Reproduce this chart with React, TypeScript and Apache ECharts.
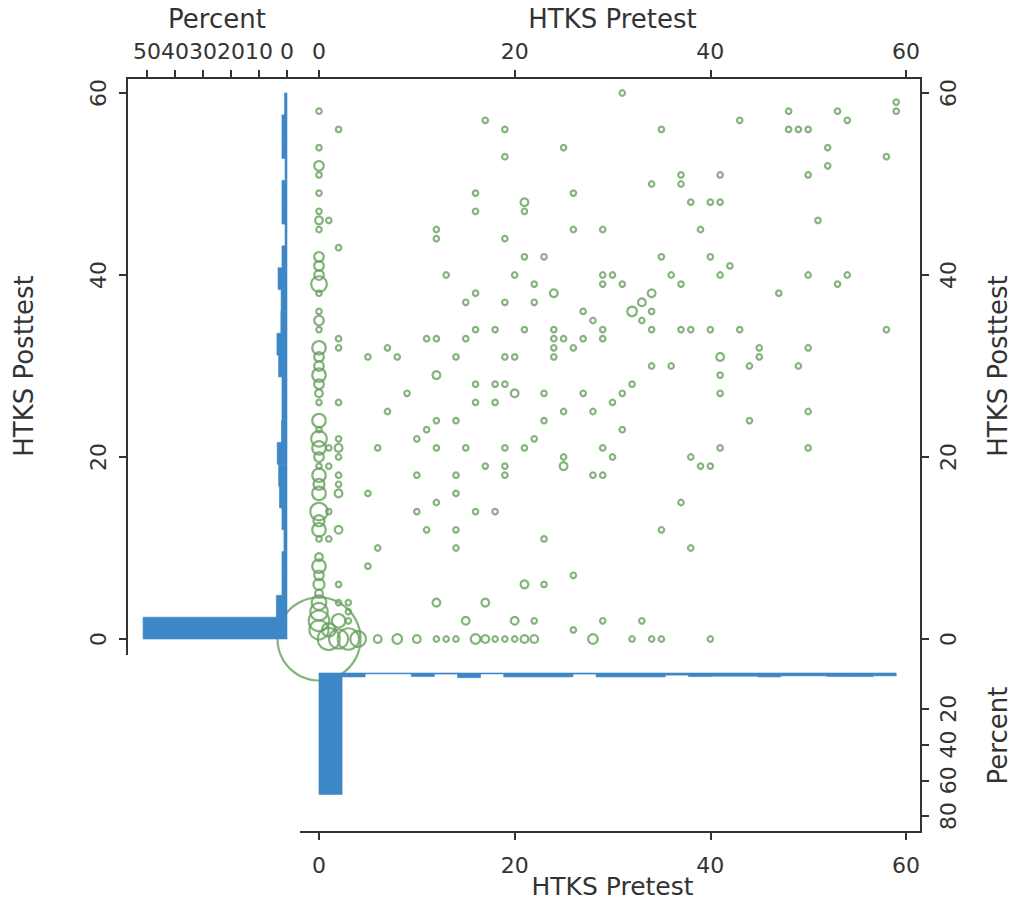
import React, { useEffect, useRef } from "react";
import * as echarts from "echarts";

// [HTKS pretest, HTKS posttest, number of children at that point]
const points: [number, number, number][] = [
  [0, 0, 228], [0, 1, 12], [0, 2, 14], [0, 3, 10], [0, 4, 7], [0, 5, 2], [0, 6, 4], [0, 7, 3], [0, 8, 6], [0, 9, 2],
  [0, 11, 1], [0, 12, 6], [0, 13, 4], [0, 14, 10], [0, 16, 6], [0, 17, 4], [0, 18, 6], [0, 19, 1], [0, 20, 3],
  [0, 21, 6], [0, 22, 8], [0, 23, 1], [0, 24, 6], [0, 26, 1], [0, 27, 2], [0, 28, 3], [0, 29, 6], [0, 30, 3],
  [0, 31, 3], [0, 32, 6], [0, 34, 1], [0, 35, 3], [0, 36, 1], [0, 38, 1], [0, 39, 8], [0, 40, 3], [0, 41, 3],
  [0, 42, 3], [0, 45, 1], [0, 46, 2], [0, 47, 1], [0, 49, 1], [0, 51, 1], [0, 52, 3], [0, 54, 1], [0, 58, 1],
  [1, 0, 16], [1, 1, 6], [1, 11, 1], [1, 14, 1], [1, 19, 1], [1, 21, 1], [1, 46, 1],
  [2, 0, 12], [2, 2, 6], [2, 4, 1], [2, 6, 1], [2, 12, 2], [2, 16, 2], [2, 17, 1], [2, 18, 1], [2, 20, 1],
  [2, 21, 2], [2, 22, 1], [2, 26, 1], [2, 32, 1], [2, 33, 1], [2, 43, 1], [2, 56, 1],
  [3, 0, 15], [3, 2, 1], [3, 3, 1], [3, 4, 1], [4, 0, 8],
  [5, 8, 1], [5, 16, 1], [5, 31, 1], [6, 0, 2], [6, 10, 1], [6, 21, 1], [7, 25, 1], [7, 32, 1],
  [8, 0, 3], [8, 31, 1], [9, 27, 1], [10, 0, 2], [10, 14, 1], [10, 18, 1], [10, 22, 1],
  [11, 12, 1], [11, 23, 1], [11, 33, 1],
  [12, 0, 1], [12, 4, 2], [12, 15, 1], [12, 21, 1], [12, 24, 1], [12, 29, 2], [12, 33, 1], [12, 44, 1], [12, 45, 1],
  [13, 0, 1], [13, 40, 1],
  [14, 0, 1], [14, 10, 1], [14, 12, 1], [14, 16, 1], [14, 18, 1], [14, 24, 1], [14, 31, 1],
  [15, 2, 2], [15, 21, 1], [15, 33, 1], [15, 37, 1],
  [16, 0, 3], [16, 14, 1], [16, 26, 1], [16, 28, 1], [16, 34, 1], [16, 38, 1], [16, 47, 1], [16, 49, 1],
  [17, 0, 2], [17, 4, 2], [17, 19, 1], [17, 57, 1],
  [18, 0, 1], [18, 14, 1], [18, 26, 1], [18, 28, 1], [18, 34, 1],
  [19, 0, 1], [19, 18, 1], [19, 19, 1], [19, 21, 1], [19, 28, 1], [19, 31, 1], [19, 37, 1], [19, 44, 1], [19, 53, 1], [19, 56, 1],
  [20, 0, 1], [20, 2, 2], [20, 27, 2], [20, 31, 1], [20, 40, 1],
  [21, 0, 2], [21, 6, 2], [21, 21, 1], [21, 34, 1], [21, 42, 1], [21, 47, 1], [21, 48, 2],
  [22, 0, 2], [22, 2, 1], [22, 22, 1], [22, 37, 1], [22, 39, 1],
  [23, 6, 1], [23, 11, 1], [23, 24, 1], [23, 27, 1], [23, 42, 1],
  [24, 31, 1], [24, 32, 1], [24, 33, 1], [24, 34, 1], [24, 38, 2],
  [25, 19, 2], [25, 20, 1], [25, 25, 1], [25, 33, 1], [25, 54, 1],
  [26, 1, 1], [26, 7, 1], [26, 32, 1], [26, 45, 1], [26, 49, 1],
  [27, 27, 1], [27, 33, 1], [27, 36, 1],
  [28, 0, 3], [28, 18, 1], [28, 25, 1], [28, 35, 1],
  [29, 2, 1], [29, 18, 1], [29, 21, 1], [29, 33, 1], [29, 34, 1], [29, 39, 1], [29, 40, 1], [29, 45, 1],
  [30, 20, 1], [30, 26, 1], [30, 40, 1],
  [31, 23, 1], [31, 27, 1], [31, 39, 1], [31, 60, 1],
  [32, 0, 1], [32, 28, 1], [32, 36, 3],
  [33, 2, 1], [33, 35, 1], [33, 37, 2],
  [34, 0, 1], [34, 30, 1], [34, 34, 1], [34, 36, 1], [34, 38, 2], [34, 50, 1],
  [35, 0, 1], [35, 12, 1], [35, 42, 1], [35, 56, 1],
  [36, 30, 1], [36, 40, 1],
  [37, 15, 1], [37, 34, 1], [37, 39, 1], [37, 50, 1], [37, 51, 1],
  [38, 10, 1], [38, 20, 1], [38, 34, 1], [38, 48, 1],
  [39, 19, 1], [39, 45, 1],
  [40, 0, 1], [40, 19, 1], [40, 34, 1], [40, 42, 1], [40, 48, 1],
  [41, 21, 1], [41, 27, 1], [41, 29, 1], [41, 31, 2], [41, 40, 1], [41, 48, 1], [41, 51, 1],
  [42, 41, 1], [43, 34, 1], [43, 57, 1], [44, 24, 1], [44, 30, 1], [45, 31, 1], [45, 32, 1],
  [47, 38, 1], [48, 56, 1], [48, 58, 1], [49, 30, 1], [49, 56, 1],
  [50, 21, 1], [50, 25, 1], [50, 32, 1], [50, 40, 1], [50, 51, 1], [50, 56, 1],
  [51, 46, 1], [52, 52, 1], [52, 54, 1], [53, 39, 1], [53, 58, 1], [54, 40, 1], [54, 57, 1],
  [58, 34, 1], [58, 53, 1], [59, 58, 1], [59, 59, 1],
];

// Posttest histogram (left): 25 bins starting at 0
const posttestBinWidth = 2.4;
const posttestPct = [
  51.4, 3.8, 1.8, 1.8, 1.1, 1.8, 2.7, 3.0, 3.5, 2.0, 1.8, 1.8, 3.0,
  3.6, 2.2, 2.1, 3.2, 1.8, 0.7, 1.8, 1.8, 0.7, 1.8, 1.8, 0.9,
];

// Pretest histogram (bottom): 25 bins starting at 0
const pretestBinWidth = 2.36;
const pretestPct = [
  68.0, 2.2, 0.5, 0.5, 2.0, 0.6, 2.6, 0.5, 2.2, 2.2, 2.2, 0.6, 2.2,
  2.2, 2.2, 1.2, 2.0, 1.8, 1.8, 2.2, 1.6, 1.6, 2.0, 2.0, 1.6,
];

const GREEN = "#66a05c";
const BLUE = "#3d87c7";
const INK = "#333333";
const FONT = "DejaVu Sans";

export default function App() {
  const ref = useRef<HTMLDivElement>(null);

  useEffect(() => {
    const chart = echarts.init(ref.current!, null, { renderer: "svg" });

    const line = { show: false, onZero: false, lineStyle: { color: INK, width: 2 } };
    const tick = { show: true, length: 8, lineStyle: { color: INK, width: 2 } };
    const label = (margin: number, rotate = 0) => ({
      color: INK,
      fontFamily: FONT,
      fontSize: 22,
      margin,
      rotate,
    });
    const nameStyle = { color: INK, fontFamily: FONT, fontSize: 26 };

    const histRect = (a: number[], b: number[]) => ({
      type: "rect",
      shape: {
        x: Math.min(a[0], b[0]),
        y: Math.min(a[1], b[1]),
        width: Math.abs(b[0] - a[0]),
        height: Math.abs(b[1] - a[1]),
      },
      style: { fill: BLUE, stroke: BLUE, lineWidth: 0.6 },
    });

    const leftHist = posttestPct.map((p, i) => [i * posttestBinWidth, (i + 1) * posttestBinWidth, p]);
    const bottomHist = pretestPct.map((p, i) => [i * pretestBinWidth, (i + 1) * pretestBinWidth, p]);

    const frame = (x1: number, y1: number, x2: number, y2: number) => ({
      type: "line",
      shape: { x1, y1, x2, y2 },
      style: { stroke: INK, lineWidth: 2 },
      z: 10,
    });

    const option: any = {
      animation: false,
      backgroundColor: "#ffffff",
      textStyle: { fontFamily: FONT },
      grid: [
        { left: 319, top: 93, width: 587, height: 546, outerBoundsMode: "none", containLabel: false },
        { left: 147, top: 93, width: 140, height: 546, outerBoundsMode: "none", containLabel: false },
        { left: 319, top: 673, width: 587, height: 143, outerBoundsMode: "none", containLabel: false },
      ],
      xAxis: [
        {
          gridIndex: 0, type: "value", min: 0, max: 60, interval: 20, position: "bottom", offset: 193,
          axisLine: line, axisTick: tick,
          axisLabel: label(22), splitLine: { show: false },
          name: "HTKS Pretest", nameLocation: "middle", nameGap: 42, nameMoveOverlap: false,
          nameTextStyle: { ...nameStyle, fontSize: 25 },
        },
        {
          gridIndex: 0, type: "value", min: 0, max: 60, interval: 20, position: "top", offset: 15,
          axisLine: line, axisTick: tick,
          axisLabel: label(16), splitLine: { show: false },
          name: "HTKS Pretest", nameLocation: "middle", nameGap: 46, nameMoveOverlap: false, nameTextStyle: nameStyle,
        },
        {
          gridIndex: 1, type: "value", min: 0, max: 50, interval: 10, inverse: true, position: "top", offset: 15,
          axisLine: line, axisTick: tick,
          axisLabel: label(16), splitLine: { show: false },
          name: "Percent", nameLocation: "middle", nameGap: 46, nameMoveOverlap: false, nameTextStyle: nameStyle,
        },
        {
          gridIndex: 2, type: "value", min: 0, max: 60, show: false, splitLine: { show: false },
        },
      ],
      yAxis: [
        {
          gridIndex: 0, type: "value", min: 0, max: 60, interval: 20, position: "left", offset: 192,
          axisLine: line, axisTick: tick,
          axisLabel: label(18, 90), splitLine: { show: false },
          name: "HTKS Posttest", nameLocation: "middle", nameGap: 90, nameRotate: 90, nameTextStyle: nameStyle,
        },
        {
          gridIndex: 0, type: "value", min: 0, max: 60, interval: 20, position: "right", offset: 15,
          axisLine: line, axisTick: tick,
          axisLabel: label(16, 90), splitLine: { show: false },
          name: "HTKS Posttest", nameLocation: "middle", nameGap: 64, nameRotate: 90, nameTextStyle: nameStyle,
        },
        {
          gridIndex: 1, type: "value", min: 0, max: 60, show: false, splitLine: { show: false },
        },
        {
          gridIndex: 2, type: "value", min: 0, max: 80, interval: 20, inverse: true, position: "right", offset: 15,
          axisLine: line, axisTick: tick,
          axisLabel: { ...label(16, 90), showMinLabel: false }, splitLine: { show: false },
          name: "Percent", nameLocation: "middle", nameGap: 64, nameRotate: 90,
          nameTextStyle: { ...nameStyle, padding: [0, 0, 0, 18] },
        },
      ],
      series: [
        {
          type: "scatter",
          xAxisIndex: 0,
          yAxisIndex: 0,
          data: points,
          symbol: "circle",
          symbolSize: (v: number[]) => 5.5 * Math.sqrt(v[2]),
          itemStyle: { color: "rgba(0,0,0,0)", borderColor: GREEN, borderWidth: 2.2 },
          clip: false,
          silent: true,
          z: 2,
        },
        {
          type: "custom",
          xAxisIndex: 2,
          yAxisIndex: 2,
          data: leftHist,
          encode: { x: 2, y: [0, 1] },
          clip: false,
          silent: true,
          z: 3,
          renderItem: (_p: any, api: any) =>
            histRect(api.coord([0, api.value(0)]), api.coord([api.value(2), api.value(1)])),
        },
        {
          type: "custom",
          xAxisIndex: 3,
          yAxisIndex: 3,
          data: bottomHist,
          encode: { x: [0, 1], y: 2 },
          clip: false,
          silent: true,
          z: 3,
          renderItem: (_p: any, api: any) =>
            histRect(api.coord([api.value(0), 0]), api.coord([api.value(1), api.value(2)])),
        },
      ],
      graphic: [
        frame(127, 78, 127, 655),
        frame(126, 78, 922, 78),
        frame(921, 77, 921, 833),
        frame(300, 832, 922, 832),
      ],
    };

    chart.setOption(option);
    return () => chart.dispose();
  }, []);

  return (
    <div
      ref={ref}
      style={{ position: "fixed", left: 0, top: 0, width: 1013, height: 902, background: "#fff" }}
    />
  );
}
